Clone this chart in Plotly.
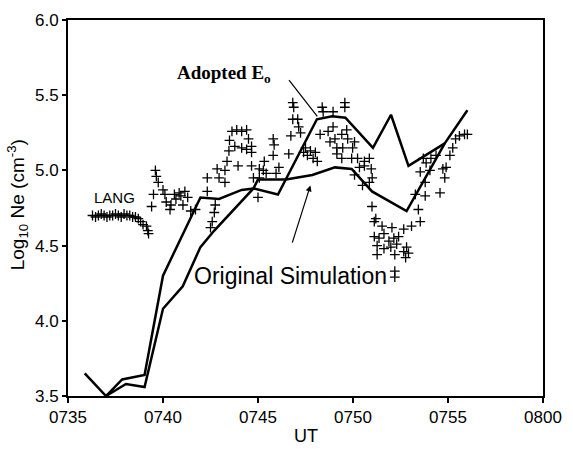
import plotly.graph_objects as go

# Time in minutes after 07:00 UT
tick_vals = [35, 40, 45, 50, 55, 60]
tick_text = ["0735", "0740", "0745", "0750", "0755", "0800"]
y_ticks = [3.5, 4.0, 4.5, 5.0, 5.5, 6.0]

adopted_x = [35.88, 37.0, 37.85, 39.03, 40.0, 41.97, 42.95, 44.14, 44.76, 46.05,
             48.1, 48.9, 49.6, 51.05, 52.0, 52.92, 54.83]
adopted_y = [3.65, 3.50, 3.61, 3.64, 4.30, 4.82, 4.81, 4.87, 4.88, 4.84,
             5.34, 5.36, 5.35, 5.15, 5.37, 5.03, 5.18]

orig_x = [37.0, 38.05, 39.03, 40.0, 41.04, 41.97, 42.7, 44.76, 45.0, 46.47,
          47.86, 49.05, 49.93, 51.0, 52.82, 54.83, 56.02]
orig_y = [3.50, 3.58, 3.56, 4.08, 4.23, 4.49, 4.60, 4.88, 4.94, 4.94,
          4.97, 5.02, 5.01, 4.86, 4.73, 5.18, 5.40]

lang_x = [36.29, 36.45, 36.6, 36.75, 36.9, 37.05, 37.2, 37.35, 37.5, 37.65, 37.8, 37.95,
          38.1, 38.25, 38.4, 38.55, 38.7, 38.82, 38.95, 39.13, 39.2, 39.24,
          39.6, 39.65, 39.75, 39.5, 39.4,
          40.0, 40.1, 40.17, 40.37, 40.42, 40.6, 40.68, 40.85, 40.94, 41.05, 41.15, 41.3, 41.46, 41.71,
          42.33, 42.33, 42.85, 42.95, 43.26, 43.26, 43.37, 43.47, 42.75, 42.7, 42.59, 42.5,
          43.63, 43.88, 44.14, 44.4, 43.5, 44.5, 43.78, 44.14, 44.4, 44.66, 44.66,
          43.95, 44.66, 45.07, 45.33, 45.8, 45.8, 45.85, 45.28, 45.43, 45.95, 46.1, 45.07, 44.76, 45.0,
          46.62, 46.73, 46.83, 46.88, 46.83, 47.09, 47.14, 47.24, 47.5, 47.76, 48.02, 47.6, 47.9, 48.12, 47.4,
          48.38, 48.43, 48.95, 49.57, 49.57, 48.27, 48.69, 48.95, 48.79, 49.05, 49.41, 49.67, 49.72, 50.08,
          49.15, 49.46, 49.98, 49.15, 49.41, 49.93, 50.24, 50.6, 50.86, 50.34, 50.6, 50.96, 50.08, 51.01,
          50.5, 50.86,
          51.0, 51.2, 51.12, 51.53, 52.05, 52.67, 53.08, 53.54,
          51.12, 51.37, 51.63, 51.89, 52.15, 52.4, 51.27, 51.63, 51.99, 52.3, 52.67, 52.82, 51.27, 52.2,
          52.77, 52.92, 52.2, 52.2,
          53.28, 53.8, 54.58, 53.44, 53.54, 53.85, 53.7, 54.1, 54.37, 53.8, 54.05, 54.73, 54.9, 54.83,
          55.1, 55.25, 55.4, 55.6, 55.87, 56.02]
lang_y = [4.70, 4.69, 4.70, 4.71, 4.70, 4.69, 4.70, 4.70, 4.71, 4.70, 4.69, 4.71,
          4.70, 4.70, 4.69, 4.69, 4.68, 4.66, 4.64, 4.63, 4.60, 4.58,
          5.00, 4.96, 4.92, 4.84, 4.76,
          4.87, 4.84, 4.79, 4.74, 4.77, 4.84, 4.81, 4.85, 4.83, 4.77, 4.86, 4.82, 4.73, 4.74,
          4.95, 4.86, 5.01, 4.95, 5.00, 4.92, 5.06, 5.13, 4.77, 4.72, 4.66, 4.62,
          5.26, 5.27, 5.26, 5.27, 5.20, 5.21, 5.16, 5.15, 5.14, 5.16, 5.12,
          5.03, 5.03, 5.01, 5.06, 5.10, 5.21, 5.17, 5.00, 4.98, 4.98, 5.02, 4.95, 4.95, 4.82,
          5.11, 5.23, 5.45, 5.42, 5.34, 5.34, 5.29, 5.25, 5.15, 5.13, 5.12, 5.10, 5.08, 5.06, 5.12,
          5.42, 5.39, 5.39, 5.45, 5.42, 5.24, 5.26, 5.29, 5.19, 5.21, 5.24, 5.27, 5.21, 5.19,
          5.15, 5.15, 5.15, 5.11, 5.08, 5.08, 5.08, 5.06, 5.08, 5.02, 5.03, 5.01, 4.97, 4.95,
          4.90, 4.92,
          4.76, 4.68, 4.66, 4.63, 4.62, 4.61, 4.63, 4.66,
          4.56, 4.55, 4.58, 4.53, 4.55, 4.56, 4.50, 4.48, 4.49, 4.51, 4.46, 4.49, 4.44, 4.44,
          4.42, 4.45, 4.33, 4.29,
          4.84, 4.83, 4.85, 4.74, 4.99, 5.05, 5.08, 5.08, 5.10, 4.92, 5.00, 5.01, 5.02, 4.95,
          5.10, 5.15, 5.21, 5.23, 5.24, 5.24]

SANS = "Liberation Sans, Arial, sans-serif"
SERIF = "Liberation Serif, Times New Roman, serif"

fig = go.Figure()
fig.add_trace(go.Scatter(x=lang_x, y=lang_y, mode="markers",
                         marker=dict(symbol="cross-thin", size=7,
                                     line=dict(color="black", width=1.3)),
                         showlegend=False))
fig.add_trace(go.Scatter(x=adopted_x, y=adopted_y, mode="lines",
                         line=dict(color="black", width=2.5), showlegend=False))
fig.add_trace(go.Scatter(x=orig_x, y=orig_y, mode="lines",
                         line=dict(color="black", width=2.5), showlegend=False))

fig.add_annotation(x=40.63, y=5.64, text="<b>Adopted E<sub>o</sub></b>", showarrow=False,
                   xanchor="left", yanchor="middle",
                   font=dict(family=SERIF, size=19, color="black"))
fig.add_annotation(x=48.12, y=5.36, ax=46.57, ay=5.61, axref="x", ayref="y",
                   text="", showarrow=True, arrowhead=0, arrowwidth=1.2, arrowcolor="black")
fig.add_annotation(x=37.43, y=4.82, text="LANG", showarrow=False,
                   font=dict(family=SANS, size=15, color="black"))
fig.add_annotation(x=46.73, y=4.30, text="Original Simulation", showarrow=False,
                   font=dict(family=SANS, size=23, color="black"))
fig.add_annotation(x=47.76, y=4.90, ax=46.78, ay=4.51, axref="x", ayref="y",
                   text="", showarrow=True, arrowhead=2, arrowsize=1, arrowwidth=1.2,
                   arrowcolor="black")
fig.add_annotation(xref="paper", yref="paper", x=0.5, y=-0.106, text="UT", showarrow=False,
                   yanchor="middle", font=dict(family=SANS, size=18, color="black"))
fig.add_annotation(xref="paper", yref="paper", x=-0.106, y=0.509, xanchor="center",
                   yanchor="middle",
                   text="Log<sub>10</sub> Ne (cm<sup>-3</sup>)", showarrow=False,
                   textangle=-90, font=dict(family=SANS, size=19, color="black"))

fig.update_xaxes(range=[35, 60], tickvals=tick_vals, ticktext=tick_text,
                 showgrid=False, zeroline=False, showline=True, linecolor="black",
                 linewidth=2, mirror=True, ticks="outside", ticklen=5, tickwidth=1.5,
                 tickcolor="black", tickfont=dict(family=SANS, size=17, color="black"))
fig.update_yaxes(range=[3.5, 6.0], tickvals=y_ticks, ticktext=[f"{v:.1f}" for v in y_ticks],
                 showgrid=False, zeroline=False, showline=True, linecolor="black",
                 linewidth=2, mirror=True, ticks="outside", ticklen=4, tickwidth=1.5,
                 tickcolor="black", tickfont=dict(family=SANS, size=17, color="black"))

fig.update_layout(width=573, height=449, margin=dict(l=68, r=21, t=11, b=53),
                  plot_bgcolor="white", paper_bgcolor="white")

fig.write_html("out.html")
